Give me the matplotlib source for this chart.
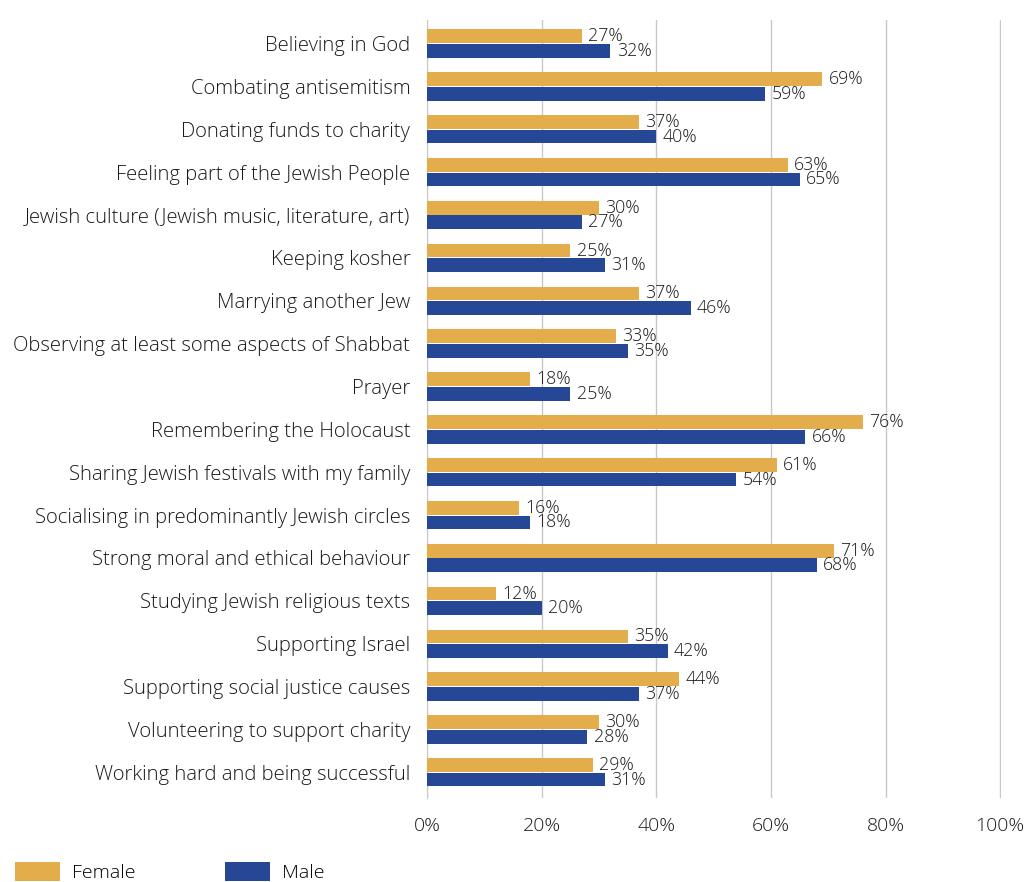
import matplotlib.pyplot as plt
import numpy as np

categories = [
    "Believing in God",
    "Combating antisemitism",
    "Donating funds to charity",
    "Feeling part of the Jewish People",
    "Jewish culture (Jewish music, literature, art)",
    "Keeping kosher",
    "Marrying another Jew",
    "Observing at least some aspects of Shabbat",
    "Prayer",
    "Remembering the Holocaust",
    "Sharing Jewish festivals with my family",
    "Socialising in predominantly Jewish circles",
    "Strong moral and ethical behaviour",
    "Studying Jewish religious texts",
    "Supporting Israel",
    "Supporting social justice causes",
    "Volunteering to support charity",
    "Working hard and being successful",
]
female = [27, 69, 37, 63, 30, 25, 37, 33, 18, 76, 61, 16, 71, 12, 35, 44, 30, 29]
male = [32, 59, 40, 65, 27, 31, 46, 35, 25, 66, 54, 18, 68, 20, 42, 37, 28, 31]
x_ticks = [0, 20, 40, 60, 80, 100]

FEMALE_COLOR = "#E3AD4B"
MALE_COLOR = "#264796"
TEXT_COLOR = "#1A1A1A"

plt.rcParams["font.family"] = ["Open Sans", "DejaVu Sans"]
plt.rcParams["font.weight"] = "light"

fig = plt.figure(figsize=(10.28, 8.82), dpi=100)
ax = fig.add_axes([427 / 1028, 1 - 798 / 882, (1001 - 427) / 1028, 778 / 882])

y = np.arange(len(categories))
bar_h = 0.32
fem_bars = ax.barh(y - bar_h / 2 - 0.01, female, height=bar_h, color=FEMALE_COLOR, label="Female", zorder=3)
male_bars = ax.barh(y + bar_h / 2 + 0.01, male, height=bar_h, color=MALE_COLOR, label="Male", zorder=3)

# percentage labels just past the end of each bar
for bars in (fem_bars, male_bars):
    ax.bar_label(bars, labels=[f"{int(b.get_width())}%" for b in bars], padding=4.5,
                 fontsize=12.8, color=TEXT_COLOR)

ax.set_ylim(len(categories) - 0.4, -0.55)
ax.set_xlim(0, 100.15)
ax.set_yticks(y, categories, fontsize=14.6, color=TEXT_COLOR)
ax.set_xticks(x_ticks, [f"{t}%" for t in x_ticks], fontsize=14, color=TEXT_COLOR)
ax.tick_params(length=0)
ax.tick_params(axis="y", pad=12)
ax.tick_params(axis="x", pad=14)
ax.xaxis.grid(True, color="#C8C8C8", linewidth=1, zorder=0)
for side in ("top", "right", "bottom"):
    ax.spines[side].set_visible(False)
ax.spines["left"].set_color("#C8C8C8")

fig.legend(handles=[fem_bars, male_bars], labels=["Female", "Male"], loc="lower left",
           bbox_to_anchor=(-0.002, -0.02), ncol=2, frameon=False, fontsize=14,
           handlelength=2.3, handleheight=1.1, columnspacing=4.6, handletextpad=0.62)

fig.savefig("out.png", dpi=100)
